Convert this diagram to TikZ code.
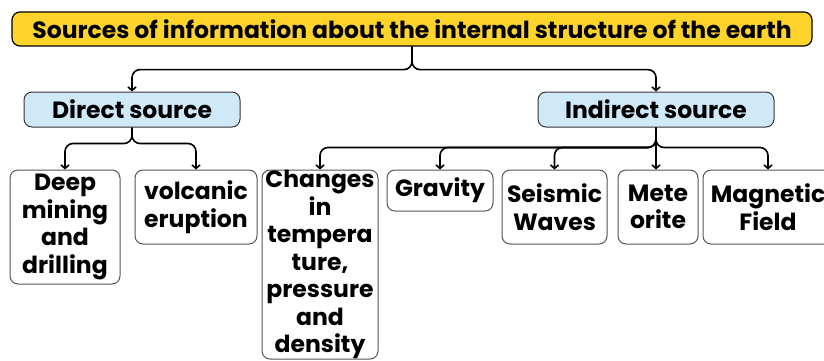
\documentclass[tikz,border=0pt]{standalone}
\usepackage{fontspec}
\setmainfont{Poppins}
\usetikzlibrary{arrows.meta}
\definecolor{titleyellow}{HTML}{FFD42A}
\definecolor{srcblue}{HTML}{CFE9F9}
\definecolor{boxedge}{HTML}{555555}
\tikzset{
  titlebox/.style={draw=black, line width=1.2pt, fill=titleyellow, rounded corners=8pt, inner sep=0pt, font=\bfseries\fontsize{23.5}{26}\selectfont},
  srcbox/.style={draw=black!80, line width=1pt, fill=srcblue, rounded corners=8pt, inner sep=0pt, font=\bfseries\fontsize{23.5}{26}\selectfont},
  leafbox/.style={draw=boxedge, line width=1pt, fill=white, rounded corners=8pt, inner sep=0pt, align=center, font=\bfseries\fontsize{23.5}{27.5}\selectfont},
  conn/.style={line width=1.6pt, rounded corners=8pt, -{Straight Barb[length=3.5pt,width=8pt,line width=1.6pt]}},
}
\begin{document}
\begin{tikzpicture}[x=1pt,y=-1pt]
\useasboundingbox (0,0) rectangle (824,361);
\clip (0,0) rectangle (824,361);
\node[titlebox, minimum width=800pt, minimum height=34pt] (title) at (412,29) {Sources of information about the internal structure of the earth};
\node[srcbox, minimum width=216pt, minimum height=35pt] (direct) at (132,109.5) {Direct source};
\node[srcbox, minimum width=236pt, minimum height=35pt] (indirect) at (656,109.5) {Indirect source};

\node[leafbox, minimum width=110pt, minimum height=114pt] (deep) at (65,227) {Deep\\mining\\and\\drilling};
\node[leafbox, minimum width=122pt, minimum height=74pt] (volc) at (196,207) {volcanic\\eruption};
\node[leafbox, minimum width=116pt, minimum height=189pt] (changes) at (320,264.5) {Changes\\in\\tempera\\ture,\\pressure\\and\\density};
\node[leafbox, minimum width=106pt, minimum height=41pt] (grav) at (440,190.5) {Gravity};
\node[leafbox, minimum width=105pt, minimum height=74pt] (seis) at (554.5,207) {Seismic\\Waves};
\node[leafbox, minimum width=80pt, minimum height=74pt] (mete) at (658,207) {Mete\\orite};
\node[leafbox, minimum width=130pt, minimum height=74pt] (magn) at (768,207) {Magnetic\\Field};

\draw[conn] (title.south) -- ++(0,23) -| (direct.north);
\draw[conn] (title.south) -- ++(0,23) -| (indirect.north);

\draw[conn] (direct.south) -- ++(0,16) -| (deep.north);
\draw[conn] (direct.south) -- ++(0,16) -| (volc.north);

\draw[conn] (indirect.south) -- ++(0,20) -| (changes.north);
\draw[conn] (indirect.south) -- ++(0,20) -| (grav.north);
\draw[conn] (indirect.south) -- ++(0,20) -| (seis.north);
\draw[conn] (indirect.south) -- (indirect.south |- mete.north);
\draw[conn] (indirect.south) -- ++(0,20) -| (magn.north);
\end{tikzpicture}
\end{document}
